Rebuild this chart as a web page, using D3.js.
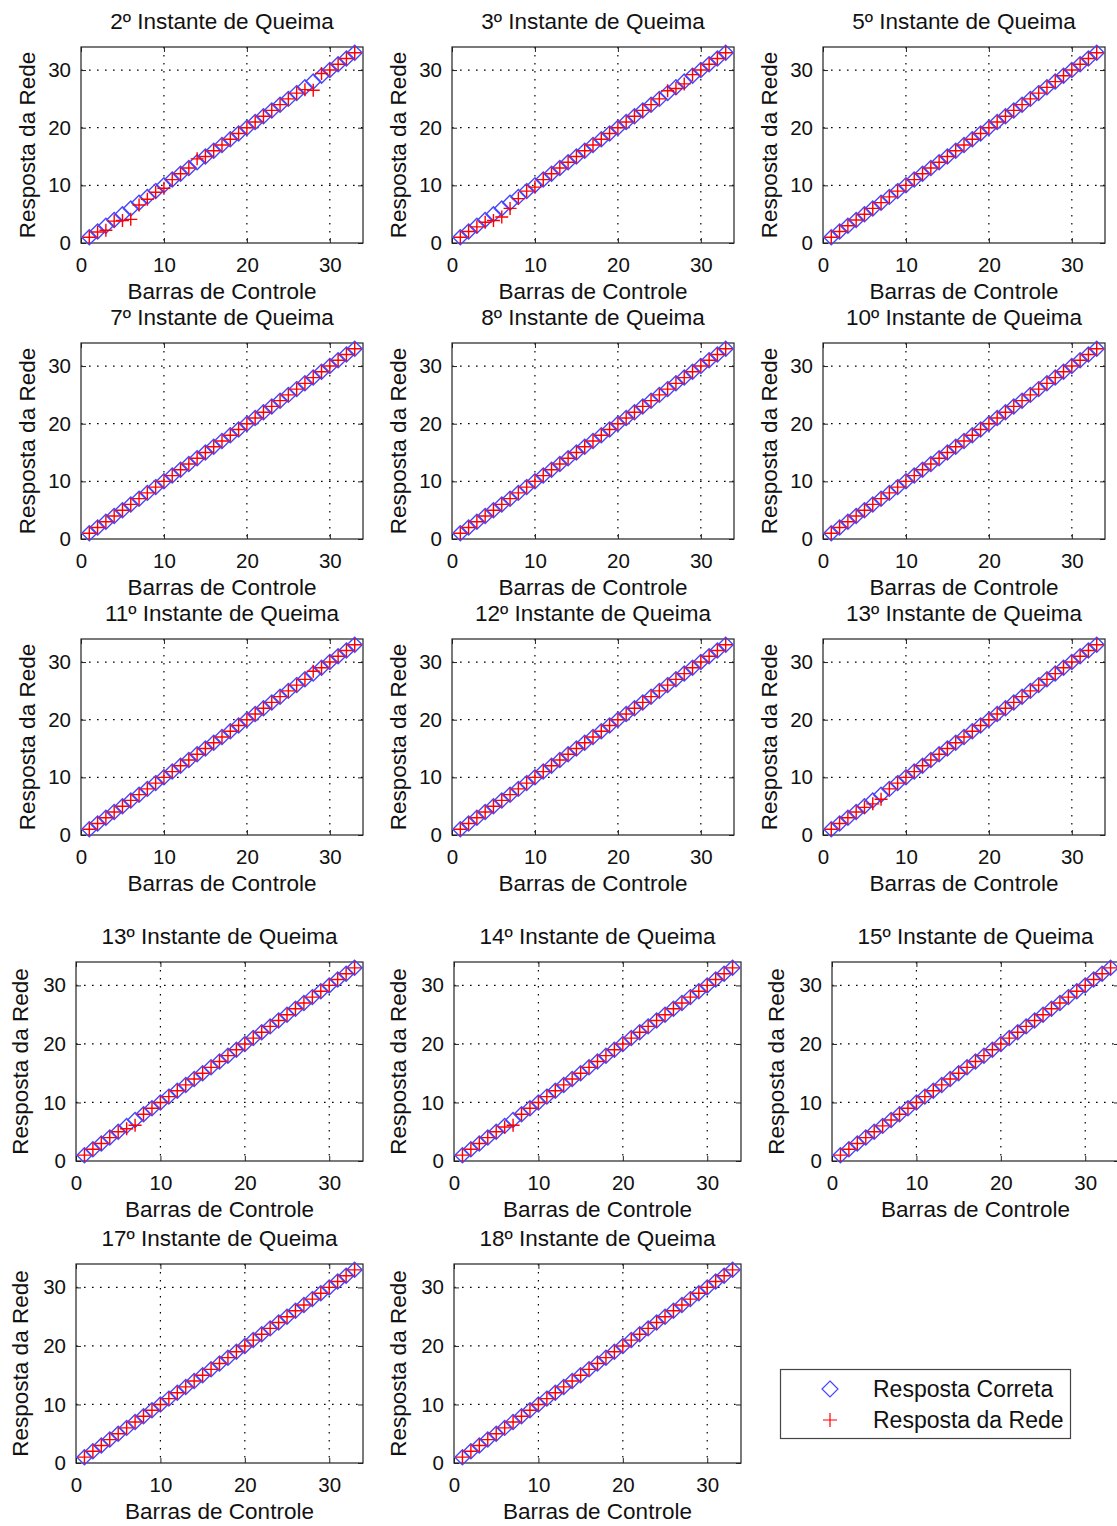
<!DOCTYPE html>
<html>
<head>
<meta charset="utf-8">
<script src="https://cdn.jsdelivr.net/npm/d3@7/dist/d3.min.js"></script>
<style>
  body { margin: 0; background: #fff; }
  text { font-family: "Liberation Sans", Arial, Helvetica, sans-serif; fill: #111; }
</style>
</head>
<body>
<svg id="chart"></svg>
<script>
// barras de controle (eixo x) e resposta correta
let barras = [1,2,3,4,5,6,7,8,9,10,11,12,13,14,15,16,17,18,19,20,21,22,23,24,25,26,27,28,29,30,31,32,33];
let respostaCorreta = [1,2,3,4,5,6,7,8,9,10,11,12,13,14,15,16,17,18,19,20,21,22,23,24,25,26,27,28,29,30,31,32,33];

// resposta da rede, um vetor por instante de queima
let rede2  = [1,1.9,2.2,3.8,3.9,4.1,6.6,7.6,8.8,9.5,11,12,13,14.6,15,16,17,18,19,20,21,22,23,24,25,26,26.6,26.5,29.4,30,31,32,33];
let rede3  = [1,2,2.8,3.6,3.9,4.5,6.0,7.7,9,9.7,11,12,13,14,15,16,17,18,19,20,21,22,23,24,25,26.4,26.8,27.6,29.2,30,31,32,33];
let rede5  = [1,2,3,4,5,6,7,8,9,10,11,12,13,14,15,16,17,18,19,20,21,22,23,24,25,26,27,28,29,30,31,32,33];
let rede7  = [1,2,3,4,5,6,7,8,9,10,11,12,13,14,15,16,17,18,19,20,21,22,23,24,25,26,27,28,29,30,31,32,33];
let rede8  = [1,2,3,4,5,6,7,8,9,10,11,12,13,14,15,16,17,18,19,20,21,22,23,24,25,26,27,28,29,30,31,32,33];
let rede10 = [1,2,3,4,5,6,7,8,9,10,11,12,13,14,15,16,17,18,19,20,21,22,23,24,25,26,27,28,29,30,31,32,33];
let rede11 = [1,2,3,4,5,6,7,8,9,10,11,12,13,14,15,16,17,18,19,20,21,22,23,24,25,26,27,28.4,29,30,31,32,33];
let rede12 = [1,2,3,4,5,6,7,8,9,10,11,12,13,14,15,16,17,18,19,20,21,22,23,24,25,26,27,28,29,30,31,32,33];
let rede13a = [1,2,3,4,4.8,5.4,6.2,8,9,10,11,12,13,14,15,16,17,18,19,20,21,22,23,24,25,26,27,28,29,30,31,32,33];
let rede13b = [1,2,3,4,5,5.5,6.1,8,9,10,11,12,13,14,15,16,17,18,19,20,21,22,23,24,25,26,27,28,29,30,31,32,33];
let rede14 = [1,2,3,4,5,5.8,6.1,8,9,10,11,12,13,14,15,16,17,18,19,20,21,22,23,24,25,26,27,28,29,30,31,32,33];
let rede15 = [1,2,3,4,5,6,7,8,9,10,11,12,13,14,15,16,17,18,19,20,21,22,23,24,25,26,27,28,29,30,31,32,33];
let rede17 = [1,2,3,4,5,6,7,8,9,10,11,12,13,14,15,16,17,18,19,20,21,22,23,24,25,26,27,28,29,30,31,32,33];
let rede18 = [1,2,3,4,5,6,7,8,9,10,11,12,13,14,15,16,17,18,19,20,21,22,23,24,25,26,27,28,29,30,31,32,33];

let titulos = ["2º Instante de Queima","3º Instante de Queima","5º Instante de Queima",
               "7º Instante de Queima","8º Instante de Queima","10º Instante de Queima",
               "11º Instante de Queima","12º Instante de Queima","13º Instante de Queima",
               "13º Instante de Queima","14º Instante de Queima","15º Instante de Queima",
               "17º Instante de Queima","18º Instante de Queima"];
let respostasRede = [rede2,rede3,rede5,rede7,rede8,rede10,rede11,rede12,rede13a,rede13b,rede14,rede15,rede17,rede18];

let tickValues = [0,10,20,30];
let legendLabels = ["Resposta Correta","Resposta da Rede"];

var svgWidth = 1117, svgHeight = 1526;
var svg = d3.select('#chart')
            .attr("width", svgWidth)
            .attr("height", svgHeight);

// posicao dos eixos (duas figuras juntadas: linhas 1-3 e linhas 4-5)
var big = {w: 282, h: 196, ylab: 46};
var small = {w: 287, h: 199, ylab: 48};
var layout = [
  [81,47,big],[452,47,big],[823,47,big],
  [81,343,big],[452,343,big],[823,343,big],
  [81,639,big],[452,639,big],[823,639,big],
  [76,962,small],[454,962,small],[832,962,small],
  [76,1264,small],[454,1264,small]
];

var blue = "#4646ff", red = "#ff0000";
var diamond = r => `M0,${-r}L${r},0L0,${r}L${-r},0Z`;
var plus = r => `M${-r},0H${r}M0,${-r}V${r}`;

layout.forEach((p, i) => {
  let left = p[0], top = p[1], w = p[2].w, h = p[2].h;
  let x = d3.scaleLinear().domain([0,34]).range([left, left + w]);
  let y = d3.scaleLinear().domain([0,34]).range([top + h, top]);
  let g = svg.append("g");

  // grade pontilhada
  g.selectAll(".gx").data(tickValues.slice(1)).enter().append("line")
    .attr("x1", d => x(d)).attr("x2", d => x(d))
    .attr("y1", top).attr("y2", top + h)
    .attr("stroke", "#000").attr("stroke-width", 1.2)
    .attr("stroke-dasharray", "1.6,6.4");
  g.selectAll(".gy").data(tickValues.slice(1)).enter().append("line")
    .attr("y1", d => y(d)).attr("y2", d => y(d))
    .attr("x1", left).attr("x2", left + w)
    .attr("stroke", "#000").attr("stroke-width", 1.2)
    .attr("stroke-dasharray", "1.6,6.4");

  // eixos com ticks para dentro
  g.append("g").attr("transform", `translate(0,${top + h})`)
    .call(d3.axisBottom(x).tickValues(tickValues).tickSizeInner(-5).tickSizeOuter(0).tickPadding(14));
  g.append("g").attr("transform", `translate(${left},0)`)
    .call(d3.axisLeft(y).tickValues(tickValues).tickSizeInner(-5).tickSizeOuter(0).tickPadding(10));
  g.append("g").attr("transform", `translate(0,${top})`)
    .call(d3.axisTop(x).tickValues(tickValues).tickSizeInner(-5).tickSizeOuter(0).tickFormat(""));
  g.append("g").attr("transform", `translate(${left + w},0)`)
    .call(d3.axisRight(y).tickValues(tickValues).tickSizeInner(-5).tickSizeOuter(0).tickFormat(""));
  g.selectAll(".domain").remove();
  g.selectAll(".tick line").attr("stroke", "#222");
  g.selectAll(".tick text").attr("font-size", 20.5).attr("fill", "#111")
    .attr("font-family", '"Liberation Sans", Arial, sans-serif');

  g.append("rect")
    .attr("x", left).attr("y", top).attr("width", w).attr("height", h)
    .attr("fill", "none").attr("stroke", "#222").attr("stroke-width", 1.2);

  // resposta correta (losangos azuis)
  g.selectAll(".correta").data(barras).enter().append("path")
    .attr("d", diamond(7.5))
    .attr("transform", (d, k) => `translate(${x(d)},${y(respostaCorreta[k])})`)
    .attr("fill", "none").attr("stroke", blue).attr("stroke-width", 1.4);

  // resposta da rede (cruzes vermelhas)
  g.selectAll(".rede").data(barras).enter().append("path")
    .attr("d", plus(6.5))
    .attr("transform", (d, k) => `translate(${x(d)},${y(respostasRede[i][k])})`)
    .attr("fill", "none").attr("stroke", red).attr("stroke-width", 1.4);

  // textos
  g.append("text").text(titulos[i])
    .attr("x", left + w / 2).attr("y", top - 18)
    .attr("text-anchor", "middle").attr("font-size", 22.5);
  g.append("text").text("Barras de Controle")
    .attr("x", left + w / 2).attr("y", top + h + 56)
    .attr("text-anchor", "middle").attr("font-size", 22.5);
  g.append("text").text("Resposta da Rede")
    .attr("transform", `translate(${left - p[2].ylab},${top + h / 2}) rotate(-90)`)
    .attr("text-anchor", "middle").attr("font-size", 22.5);
});

// legenda
var legend = svg.append("g");
legend.append("rect")
  .attr("x", 780.5).attr("y", 1369.5).attr("width", 290).attr("height", 69)
  .attr("fill", "#fff").attr("stroke", "#444").attr("stroke-width", 1.2);
legend.selectAll(".lt").data(legendLabels).enter().append("text")
  .text(d => d)
  .attr("x", 873).attr("y", (d, i) => 1397 + i * 31)
  .attr("font-size", 23);
legend.append("path").attr("d", diamond(8))
  .attr("transform", "translate(830,1389)")
  .attr("fill", "none").attr("stroke", blue).attr("stroke-width", 1.2);
legend.append("path").attr("d", plus(7))
  .attr("transform", "translate(830,1420)")
  .attr("fill", "none").attr("stroke", red).attr("stroke-width", 1.2);
</script>
</body>
</html>
